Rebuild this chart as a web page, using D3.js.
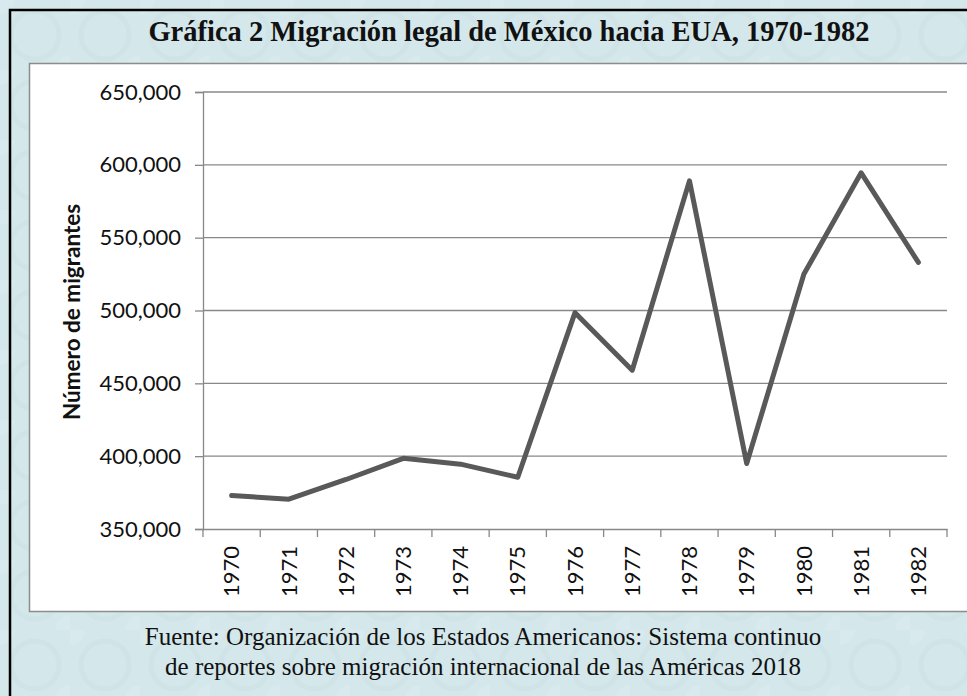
<!DOCTYPE html>
<html>
<head>
<meta charset="utf-8">
<script src="https://cdn.jsdelivr.net/npm/d3@7"></script>
<style>
  html, body { margin: 0; padding: 0; background: #d5e8ec; }
  svg { display: block; }
</style>
</head>
<body>
<svg id="chart" width="967" height="696"></svg>
<script>
// data
let years = ["1970","1971","1972","1973","1974","1975","1976","1977","1978","1979","1980","1981","1982"];
let migrants = [373000, 370500, 384000, 398500, 394500, 385500, 498500, 459000, 589000, 395000, 525000, 594500, 533000];
let yTicks = [350000, 400000, 450000, 500000, 550000, 600000, 650000];

let titleText = "Gráfica 2 Migración legal de México hacia EUA, 1970-1982";
let yTitle = "Número de migrantes";
let sourceLines = [
    "Fuente: Organización de los Estados Americanos: Sistema continuo",
    "de reportes sobre migración internacional de las Américas 2018"
];

let svg = d3.select("#chart");

// background texture + frame
let defs = svg.append("defs");
let pat = defs.append("pattern")
    .attr("id", "bgpat")
    .attr("width", 70).attr("height", 70)
    .attr("patternUnits", "userSpaceOnUse");
pat.append("rect").attr("width", 70).attr("height", 70).attr("fill", "#d4e7eb");
pat.append("circle").attr("cx", 35).attr("cy", 35).attr("r", 24)
    .attr("fill", "none").attr("stroke", "#d0e4e8").attr("stroke-width", 5);
pat.append("circle").attr("cx", 0).attr("cy", 0).attr("r", 15)
    .attr("fill", "#d8eaee");
pat.append("circle").attr("cx", 70).attr("cy", 70).attr("r", 15)
    .attr("fill", "#d8eaee");

svg.append("rect")
    .attr("x", 0).attr("y", 0).attr("width", 967).attr("height", 696)
    .attr("fill", "url(#bgpat)");

svg.append("rect")
    .attr("x", 10).attr("y", 10).attr("width", 1000).attr("height", 800)
    .attr("fill", "none").attr("stroke", "#000").attr("stroke-width", 2.5);

// title
svg.append("text")
    .attr("x", 509).attr("y", 41)
    .attr("text-anchor", "middle")
    .style("font-family", "'Liberation Serif', 'Times New Roman', serif")
    .style("font-weight", "bold")
    .style("font-size", "28.5px")
    .attr("fill", "#111")
    .text(titleText);

// white chart box
svg.append("rect")
    .attr("x", 29.5).attr("y", 63.5).attr("width", 1000).attr("height", 548)
    .attr("fill", "#fff").attr("stroke", "#8c8c8c").attr("stroke-width", 1.5);

// scales
let plotLeft = 203, plotRight = 947, plotTop = 92, plotBottom = 529;

let x = d3.scaleBand()
    .domain(years)
    .range([plotLeft, plotRight]);

let y = d3.scaleLinear()
    .domain([350000, 650000])
    .range([plotBottom, plotTop]);

// gridlines
svg.append("g")
    .selectAll("line")
    .data(yTicks.slice(1))
    .enter()
    .append("line")
    .attr("x1", plotLeft).attr("x2", plotRight)
    .attr("y1", d => y(d)).attr("y2", d => y(d))
    .attr("stroke", "#888").attr("stroke-width", 1.3);

// y axis
let axisY = d3.axisLeft(y)
    .tickValues(yTicks)
    .tickFormat(d3.format(","))
    .tickSize(8)
    .tickPadding(14);

let gy = svg.append("g")
    .attr("transform", "translate(" + plotLeft + ",0)")
    .call(axisY);
gy.select(".domain").attr("stroke", "#888").attr("stroke-width", 1.3);
gy.selectAll(".tick line").attr("stroke", "#888").attr("stroke-width", 1.3);
gy.selectAll(".tick text")
    .style("font-family", "Lato, 'Open Sans', sans-serif")
    .style("font-size", "22px")
    .attr("fill", "#111");

// x axis: ticks at band boundaries
let axisX = d3.axisBottom(x)
    .tickSize(0)
    .tickPadding(0);

let gx = svg.append("g")
    .attr("transform", "translate(0," + plotBottom + ")")
    .call(axisX);
gx.select(".domain").attr("stroke", "#888").attr("stroke-width", 1.3);
gx.selectAll(".tick text")
    .style("font-family", "Lato, 'Open Sans', sans-serif")
    .style("font-size", "22px")
    .attr("fill", "#111")
    .attr("text-anchor", "end")
    .attr("dy", "0.35em")
    .attr("transform", "translate(0,17) rotate(-90)")
    .attr("x", 0).attr("y", 0);

let boundaries = years.map(d => x(d)).concat([x.range()[1]]);
gx.selectAll("line.bound")
    .data(boundaries)
    .enter()
    .append("line")
    .attr("class", "bound")
    .attr("x1", d => d).attr("x2", d => d)
    .attr("y1", 0).attr("y2", 8)
    .attr("stroke", "#888").attr("stroke-width", 1.3);

// y axis title
svg.append("text")
    .attr("transform", "translate(80,312) rotate(-90)")
    .attr("text-anchor", "middle")
    .style("font-family", "Lato, 'Open Sans', sans-serif")
    .style("font-weight", "bold")
    .style("font-size", "22.5px")
    .attr("fill", "#111")
    .text(yTitle);

// the line
let line = d3.line()
    .x((d, i) => x(years[i]) + x.bandwidth() / 2)
    .y(d => y(d));

svg.append("path")
    .datum(migrants)
    .attr("d", line)
    .attr("fill", "none")
    .attr("stroke", "#595959")
    .attr("stroke-width", 5)
    .attr("stroke-linejoin", "round")
    .attr("stroke-linecap", "round");

// source note
svg.append("g")
    .selectAll("text")
    .data(sourceLines)
    .enter()
    .append("text")
    .attr("x", 483)
    .attr("y", (d, i) => 645 + i * 30)
    .attr("text-anchor", "middle")
    .style("font-family", "'Liberation Serif', 'Times New Roman', serif")
    .style("font-size", "25px")
    .attr("fill", "#111")
    .text(d => d);
</script>
</body>
</html>
